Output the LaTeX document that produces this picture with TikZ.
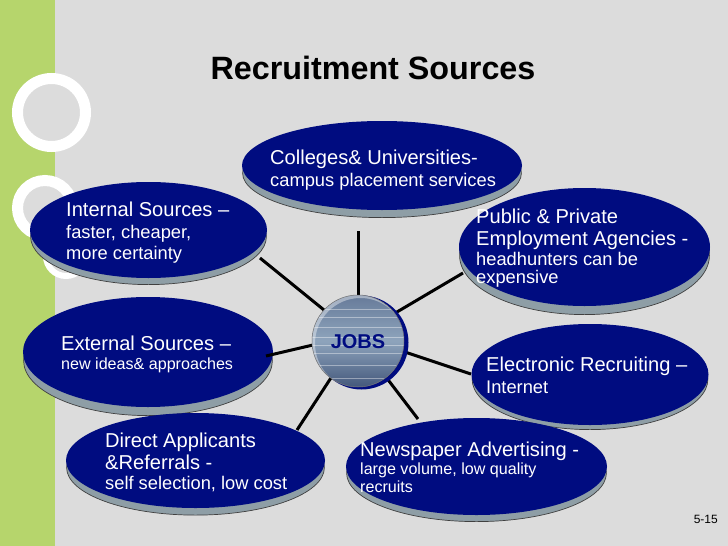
\documentclass[tikz,border=0pt]{standalone}
\usepackage{fontspec}
\setmainfont{Liberation Sans}
\definecolor{bg}{HTML}{DCDCDC}
\definecolor{leaf}{HTML}{B6D56C}
\definecolor{navy}{HTML}{000C80}
\definecolor{rim}{HTML}{8E9EA6}
\definecolor{ballA}{HTML}{667A99}
\definecolor{ballB}{HTML}{8EA4BC}
\definecolor{ballC}{HTML}{42567A}
\newcommand{\fbig}{\fontsize{20.1}{22}\selectfont}
\newcommand{\fmed}{\fontsize{18.3}{20}\selectfont}
\newcommand{\fsml}{\fontsize{16.1}{20}\selectfont}
\newcommand{\lines}[1]{\vtop{\lineskiplimit=-100pt\lineskip=0pt #1}}
\newcommand{\lin}[3]{\baselineskip=#1pt\hbox{#2#3}}
% name, cx, cy, rx, ry, rim depth
\newcommand{\plate}[6]{%
  \fill[rim,draw=black!75,line width=.7pt] (#2,#3+#6-.4) ellipse [x radius=#4-.6,y radius=#5];
  \node[disc,minimum width=2*#4,minimum height=2*#5] (#1) at (#2,#3) {};
}
\usetikzlibrary{shapes.geometric}
\tikzset{
  x=1pt,y=-1pt,
  disc/.style={draw=none,ellipse,fill=navy,inner sep=0pt,outer sep=0pt},
  platetext/.style={text=white,anchor=base west,inner sep=0pt},
  spoke/.style={line width=3pt,black},
  ringshape/.style={draw=white,fill=bg}
}
\begin{document}
\begin{tikzpicture}
\useasboundingbox (0,0) rectangle (728,546);
\fill[bg] (0,0) rectangle (728,546);
\fill[leaf] (0,0) rectangle (55,546);
\draw[ringshape,line width=11pt] (51.5,112.5) circle (34);
\draw[ringshape,line width=11pt] (45,208) circle (27.5);
\draw[ringshape,line width=6pt] (66,256) circle (20);

\node[anchor=base,font=\bfseries\fontsize{32.3}{36}\selectfont,inner sep=0pt] (title) at (373,79) {Recruitment Sources};

% connector end points
\coordinate (c1) at (358,231); \coordinate (c1b) at (358,305);
\coordinate (i1) at (260,258); \coordinate (i1b) at (340,323);
\coordinate (e1) at (266,356); \coordinate (e1b) at (330,341);
\coordinate (d1) at (297,430); \coordinate (d1b) at (340,364);
\coordinate (n1) at (418,419); \coordinate (n1b) at (376,364);
\coordinate (r1) at (471,374); \coordinate (r1b) at (390,347);
\coordinate (p1) at (463,273); \coordinate (p1b) at (380,322);
\foreach \a/\b in {c1/c1b,i1/i1b,d1/d1b,n1/n1b,r1/r1b,p1/p1b}
  \draw[spoke] (\a) -- (\b);

\plate{colleges}{382}{165.5}{140}{44.5}{8}
\plate{internal}{148.5}{230}{118.5}{48}{7}
\plate{public}{584.5}{247}{125.5}{59}{9}
\plate{external}{148}{352}{125}{55}{9}
\plate{electronic}{590}{374.5}{118.5}{50.5}{5}
\plate{direct}{195.5}{460.5}{129.5}{47.5}{7.5}
\plate{newspaper}{476.5}{466.5}{130.5}{48.5}{7}

\draw[spoke] (e1) -- (e1b);

% JOBS ball
\node[circle,fill=navy,minimum size=94pt,inner sep=0pt] (ballback) at (361.5,342.5) {};
\begin{scope}
  \clip (358,341) circle (46);
  \shade[top color=ballA,bottom color=ballC,middle color=ballB] (310,294) rectangle (406,388);
  \fill[white,opacity=.4,even odd rule] (358,341) circle (46) (360.5,343.5) circle (45.5);
  \foreach \y in {309,317,327,337,345,353,365,378}
    \draw[white,opacity=.4,line width=.6pt] (312,\y) -- (405,\y);
\end{scope}
\draw[black!55,line width=.5pt] (358,341) circle (46);
\node[font=\bfseries\fontsize{20}{22}\selectfont,text=navy,inner sep=0pt] (jobs) at (358,342) {JOBS};

\node[platetext] (t1) at (270,164) {\lines{\lin{21}{\fbig}{Colleges\& Universities-}\lin{22}{\fmed}{campus placement services}}};
\node[platetext] (t2) at (66,216) {\lines{\lin{22}{\fbig}{Internal Sources --}\lin{22}{\fmed}{faster, cheaper,}\lin{21}{\fmed}{more certainty}}};
\node[platetext] (t3) at (476,223) {\lines{\lin{22}{\fbig}{Public \& Private}\lin{22}{\fbig}{Employment Agencies -}\lin{20}{\fmed}{headhunters can be}\lin{18}{\fmed}{expensive}}};
\node[platetext] (t4) at (61,350) {\lines{\lin{21}{\fbig}{External Sources --}\lin{19}{\fsml}{new ideas\& approaches}}};
\node[platetext] (t5) at (486,371) {\lines{\lin{22}{\fbig}{Electronic Recruiting --}\lin{22}{\fmed}{Internet}}};
\node[platetext] (t6) at (105,447) {\lines{\lin{22}{\fbig}{Direct Applicants}\lin{22}{\fbig}{\&Referrals -}\lin{20}{\fmed}{self selection, low cost}}};
\node[platetext] (t7) at (360,456) {\lines{\lin{18}{\fbig}{Newspaper Advertising -}\lin{18}{\fsml}{large volume, low quality}\lin{18}{\fsml}{recruits}}};
\node[anchor=east,inner sep=0pt,font=\fontsize{12}{14}\selectfont] (page) at (718,519) {5-15};
\end{tikzpicture}
\end{document}
